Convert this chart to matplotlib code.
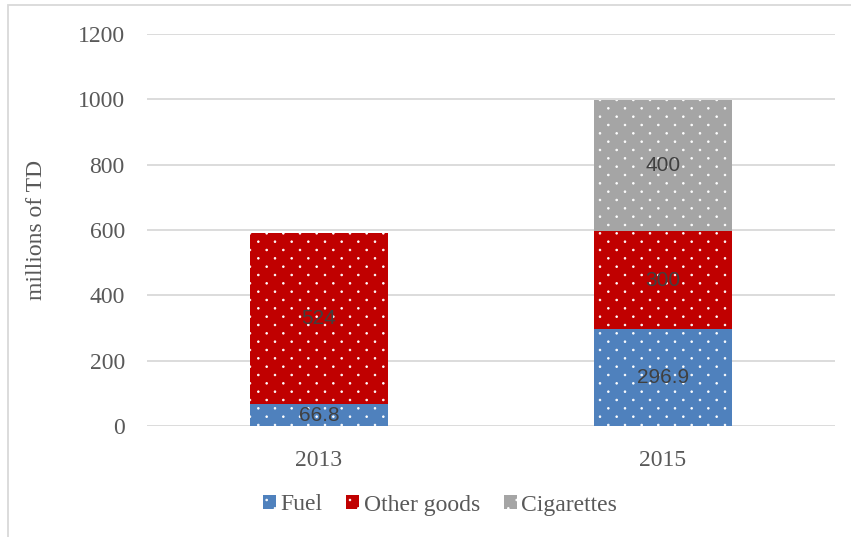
import matplotlib
matplotlib.use('Agg')
import matplotlib.pyplot as plt
import matplotlib.hatch as mhatch
import numpy as np
from matplotlib.path import Path
from matplotlib.patches import Rectangle

years = ['2013', '2015']
fuel = [66.8, 296.9]
other_goods = [524, 300]
cigarettes = [0, 400]


# small dot texture: rows twice as close as columns, every other row shifted
class OffsetDots(mhatch.HatchPatternBase):
    def __init__(self, hatch, density):
        self.ncols = hatch.count('.') * density
        self.nrows = 2 * self.ncols
        circle = Path.unit_circle()
        self.shape_vertices = circle.vertices
        self.shape_codes = circle.codes
        npts = 0
        if self.ncols:
            for r in range(self.nrows + 1):
                npts += self.ncols + 1 if r % 2 == 0 else self.ncols
        self.num_vertices = npts * len(self.shape_vertices)

    def set_vertices_and_codes(self, vertices, codes):
        step = 1.0 / self.ncols
        shape = self.shape_vertices * step * 0.05
        vparts, cparts = [], []
        for r in range(self.nrows + 1):
            if r % 2 == 0:
                cols = np.linspace(0, 1, self.ncols + 1)
            else:
                cols = np.linspace(step / 2, 1 - step / 2, self.ncols)
            for c in cols:
                vparts.append(shape + [c, r / self.nrows])
                cparts.append(self.shape_codes)
        np.concatenate(vparts, out=vertices)
        np.concatenate(cparts, out=codes)


mhatch._hatch_types = [OffsetDots if t is mhatch.SmallFilledCircles else t
                       for t in mhatch._hatch_types]

plt.rcParams['font.family'] = ['Liberation Serif', 'DejaVu Serif']
plt.rcParams['hatch.color'] = 'white'
plt.rcParams['hatch.linewidth'] = 0.6

fig = plt.figure(figsize=(8.51, 5.37), dpi=100)
ax = fig.add_axes([147 / 851, 1 - 426 / 537, (835 - 147) / 851, (426 - 34) / 537])

x = range(len(years))
bottom2 = [f + o for f, o in zip(fuel, other_goods)]
b1 = ax.bar(x, fuel, width=0.4, color='#4f81bd', hatch='.', linewidth=0, label='Fuel', zorder=2)
b2 = ax.bar(x, other_goods, width=0.4, bottom=fuel, color='#c00000', hatch='.', linewidth=0,
            label='Other goods', zorder=2)
b3 = ax.bar(x, cigarettes, width=0.4, bottom=bottom2, color='#a5a5a5', hatch='.', linewidth=0,
            label='Cigarettes', zorder=2)

# value labels in the middle of each segment
for bars, vals in [(b1, fuel), (b2, other_goods), (b3, cigarettes)]:
    for rect, v in zip(bars, vals):
        if v == 0:
            continue
        ax.text(rect.get_x() + rect.get_width() / 2, rect.get_y() + rect.get_height() / 2,
                f'{v:g}', ha='center', va='center', fontsize=15,
                family=['Liberation Sans', 'DejaVu Sans'], color='#404040', zorder=3)

ax.set_xlim(-0.5, 1.5)
ax.set_ylim(0, 1200)
ax.set_yticks(range(0, 1201, 200))
ax.set_xticks(list(x))
ax.set_xticklabels(years)
ax.tick_params(length=0, labelsize=17, labelcolor='#595959')
ax.tick_params(axis='x', pad=17)
ax.tick_params(axis='y', pad=16)
ax.yaxis.grid(True, color='#d9d9d9', linewidth=1.3, zorder=0)
ax.set_axisbelow(True)
for s in ax.spines.values():
    s.set_visible(False)
ax.set_ylabel('millions of TD', fontsize=17, color='#595959', labelpad=22)

leg = fig.legend(handles=[b1, b2, b3], loc='center', bbox_to_anchor=(440 / 851, 1 - 505 / 537),
                 ncol=3, frameon=False, fontsize=17, labelcolor='#595959',
                 handlelength=0.55, handleheight=0.55, handletextpad=0.2, columnspacing=1.0)

# thin outer frame
fig.patches.append(Rectangle((8 / 851, -0.1), 1.2, 1 - 5 / 537 + 0.1, transform=fig.transFigure,
                             fill=False, edgecolor='#d9d9d9', linewidth=1.3))

fig.savefig('out.png', dpi=100)
